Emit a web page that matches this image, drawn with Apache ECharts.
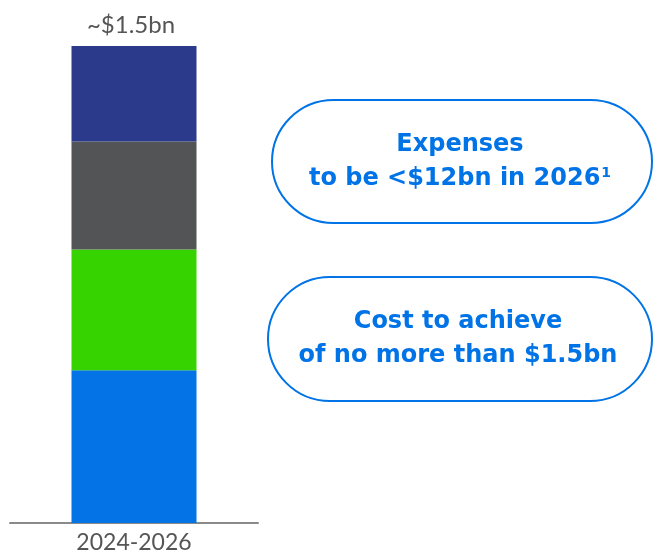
<!DOCTYPE html>
<html>
<head>
<meta charset="utf-8">
<style>
  html, body { margin: 0; padding: 0; background: #ffffff; }
  #chart { width: 653px; height: 555px; }
</style>
<script src="https://cdn.jsdelivr.net/npm/echarts@6/dist/echarts.min.js"></script>
</head>
<body>
<div id="chart"></div>
<script>
// Cost-to-achieve phasing, $bn, stacked bottom to top
const categories = ['2024-2026'];
const segBlue  = [0.48];
const segGreen = [0.38];
const segGray  = [0.34];
const segNavy  = [0.30];
const totalLabel = ['~$1.5bn'];

const pillTexts = [
  ['Expenses', 'to be <$12bn in 2026', '1'],
  ['Cost to achieve', 'of no more than $1.5bn', '']
];

const BLUE = '#0073E6';
const labelFont = 'Lato, "Open Sans", sans-serif';
const pillFont = '"DejaVu Sans", Lato, sans-serif';

const chart = echarts.init(document.getElementById('chart'), null, { renderer: 'canvas' });

function seg(name, data, color, withTop) {
  const s = {
    name: name,
    type: 'bar',
    stack: 'total',
    data: data,
    barWidth: 125,
    itemStyle: { color: color },
    silent: true
  };
  if (withTop) {
    s.label = {
      show: true,
      position: 'top',
      distance: 9,
      offset: [-3, 0],
      formatter: (p) => totalLabel[p.dataIndex],
      color: '#555555',
      fontFamily: labelFont,
      fontSize: 24,
      fontWeight: 'normal'
    };
  }
  return s;
}

function pill(x, y, w, h, lines) {
  const cx = x + w / 2 - 2;
  const children = [
    {
      type: 'rect',
      shape: { x: x, y: y, width: w, height: h, r: h / 2 },
      style: { fill: '#ffffff', stroke: BLUE, lineWidth: 2 }
    },
    {
      type: 'text',
      style: {
        x: cx, y: y + h / 2 - 17,
        text: lines[0],
        fill: BLUE, font: 'bold 24px ' + pillFont,
        align: 'center', verticalAlign: 'middle'
      }
    },
    {
      type: 'text',
      style: {
        x: cx, y: y + h / 2 + 17,
        text: '{m|' + lines[1] + '}' + (lines[2] ? '{s|' + lines[2] + '}' : ''),
        align: 'center', verticalAlign: 'middle',
        rich: {
          m: { fill: BLUE, font: 'bold 24px ' + pillFont, verticalAlign: 'bottom' },
          s: { fill: BLUE, font: 'bold 14px ' + pillFont, verticalAlign: 'top', padding: [0, 0, 10, 1] }
        }
      }
    }
  ];
  return { type: 'group', children: children };
}

chart.setOption({
  animation: false,
  backgroundColor: '#ffffff',
  grid: { left: 10, width: 248, top: 46, bottom: 32, containLabel: false },
  xAxis: {
    type: 'category',
    data: categories,
    axisLine: { show: true, lineStyle: { color: '#8a8a8a', width: 2 } },
    axisTick: { show: false },
    axisLabel: {
      color: '#555555',
      fontFamily: labelFont,
      fontSize: 23,
      margin: 8
    }
  },
  yAxis: {
    type: 'value',
    min: 0,
    max: 1.5,
    show: false,
    splitLine: { show: false }
  },
  series: [
    seg('Blue', segBlue, '#0373E6', false),
    seg('Green', segGreen, '#36D300', false),
    seg('Gray', segGray, '#535455', false),
    seg('Navy', segNavy, '#2B3A8A', true)
  ],
  graphic: [
    pill(272, 100, 380, 123, pillTexts[0]),
    pill(268, 277, 384, 124, pillTexts[1])
  ]
});
</script>
</body>
</html>
